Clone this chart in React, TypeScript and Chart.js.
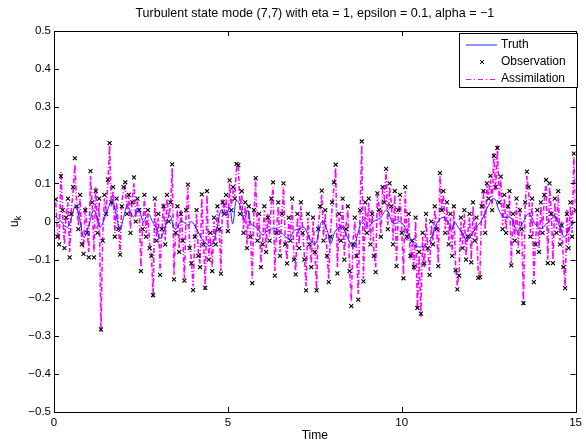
import React, { useEffect, useRef } from "react";
import { Chart, registerables } from "chart.js";

Chart.register(...registerables);

const FONT = "'Liberation Sans', Arial, Helvetica, sans-serif";
const TITLE = "Turbulent state mode (7,7) with eta = 1, epsilon = 0.1, alpha = \u22121";
const X_LABEL = "Time";
const SERIES_NAMES = ["Truth", "Observation", "Assimilation"];
const X_TICKS = [0, 5, 10, 15];
const Y_TICKS = [-0.5, -0.4, -0.3, -0.2, -0.1, 0, 0.1, 0.2, 0.3, 0.4, 0.5];

const truthTime = [
  0, 0.15, 0.38, 0.5, 0.62, 0.74, 0.86, 1.0, 1.14, 1.24, 1.33, 1.5, 1.67, 1.78, 1.9, 2.0, 2.1, 2.2, 2.29, 2.43,
  2.57, 2.71, 2.83, 2.95, 3.05, 3.18, 3.33, 3.48, 3.67, 3.86, 3.95, 4.1, 4.29, 4.52, 4.67, 4.81, 4.95, 5.05, 5.14, 5.24,
  5.33, 5.48, 5.57, 5.67, 5.86, 6.0, 6.14, 6.38, 6.57, 6.76, 6.9, 7.05, 7.19, 7.38, 7.52, 7.62, 7.71, 7.86, 7.95, 8.1,
  8.29, 8.48, 8.62, 8.76, 8.86, 9.0, 9.19, 9.38, 9.57, 9.76, 9.95, 10.14, 10.33, 10.52, 10.71, 10.86, 11.0, 11.19, 11.33, 11.43,
  11.52, 11.62, 11.76, 11.86, 12.0, 12.14, 12.28, 12.47, 12.66, 12.8, 12.94, 13.13, 13.32, 13.5, 13.65, 13.84, 13.98, 14.12, 14.31, 14.4,
  14.55, 14.69, 14.83, 15.0,
];
const truthValue = [
  0.016, 0.005, -0.015, 0.01, 0.042, 0.005, -0.041, -0.01, 0.03, 0.01, -0.015, 0.02, 0.055, 0.02, -0.02, 0.01, 0.04, 0.025, 0.012, 0.035,
  0.0, 0.02, 0.0, -0.02, -0.045, -0.02, 0.016, -0.02, 0.0, -0.01, 0.0, -0.02, -0.05, -0.063, -0.024, 0.03, 0.016, 0.038, -0.006, 0.055,
  0.046, 0.007, 0.03, -0.006, -0.019, -0.035, -0.024, -0.019, -0.032, -0.046, -0.024, -0.02, -0.015, -0.05, -0.059, -0.024, 0.0, -0.024, -0.059, -0.024,
  -0.015, -0.05, -0.067, -0.024, 0.0, -0.015, 0.0, 0.01, 0.03, -0.006, 0.0, -0.024, -0.059, -0.067, -0.059, -0.041, -0.006, 0.011, 0.0, -0.024,
  -0.002, -0.015, -0.032, -0.05, -0.036, -0.015, 0.0, 0.038, 0.06, 0.029, 0.011, 0.011, -0.024, 0.0, 0.02, -0.006, -0.019, -0.01, 0.007, 0.016,
  -0.015, -0.041, -0.015, 0.0,
];

// observation / assimilation sample times: every 0.05 from 0.05 to 15
const sampleTime = Array.from({ length: 300 }, (_, i) => Number(((i + 1) * 0.05).toFixed(2)));

const observation = [
  0.058, -0.04, -0.06, 0.119, 0.03, -0.07, 0.01, 0.06, -0.094, 0.02, 0.09, 0.166, 0.04, -0.02, 0.07, -0.06, -0.085, 0.03, -0.03, -0.094,
  0.132, 0.05, -0.094, 0.08, -0.03, 0.06, -0.283, -0.05, 0.07, 0.02, 0.11, 0.206, 0.05, 0.09, -0.04, 0.06, -0.02, -0.087, 0.04, 0.09,
  0.103, 0.02, 0.07, -0.03, 0.05, 0.116, 0.0, 0.06, 0.03, -0.13, -0.02, 0.07, -0.04, 0.03, -0.07, -0.09, -0.193, 0.06, -0.05, 0.02,
  -0.14, -0.02, 0.04, -0.06, 0.07, 0.0, 0.05, 0.15, -0.152, -0.03, 0.04, -0.08, 0.02, -0.05, -0.155, 0.03, 0.097, -0.07, -0.11, -0.18,
  -0.04, 0.03, -0.09, -0.12, 0.071, -0.06, -0.174, 0.08, -0.1, -0.03, -0.13, 0.01, -0.06, 0.04, -0.02, -0.137, 0.05, 0.02, 0.07, -0.025,
  0.108, 0.03, 0.09, 0.06, 0.151, 0.148, 0.02, 0.08, -0.03, 0.05, -0.07, 0.04, -0.04, -0.162, 0.03, 0.114, -0.05, 0.02, -0.12, -0.06,
  0.04, -0.08, 0.01, -0.05, 0.06, 0.103, -0.142, -0.03, 0.05, -0.09, 0.02, 0.1, -0.06, -0.11, 0.01, -0.05, 0.06, -0.1, -0.139, 0.02,
  -0.07, 0.05, -0.03, -0.1, -0.181, 0.02, -0.06, -0.12, 0.01, -0.08, -0.181, -0.02, 0.04, 0.081, -0.05, 0.03, -0.09, -0.159, -0.04, 0.05,
  0.103, 0.149, -0.136, 0.02, -0.05, 0.06, -0.1, -0.02, 0.04, -0.13, -0.222, -0.06, 0.01, -0.09, -0.205, 0.03, 0.21, -0.157, 0.05, -0.03,
  0.06, -0.06, 0.02, -0.09, -0.133, 0.074, 0.03, -0.04, 0.09, 0.05, 0.138, -0.02, 0.1, 0.04, -0.06, 0.08, -0.117, 0.03, 0.07, -0.03,
  -0.149, 0.09, -0.04, 0.02, -0.09, -0.05, -0.12, 0.01, -0.227, -0.08, -0.242, -0.03, -0.11, 0.02, -0.07, -0.14, 0.0, -0.06, 0.04, -0.02,
  -0.117, 0.127, 0.03, 0.08, -0.03, 0.05, -0.06, 0.02, -0.09, 0.04, -0.128, -0.178, -0.142, 0.01, -0.07, 0.03, -0.1, -0.04, 0.02, -0.107,
  0.05, -0.05, 0.01, -0.148, -0.146, 0.04, 0.08, -0.03, 0.1, 0.06, 0.12, 0.03, 0.172, 0.09, 0.193, 0.05, 0.118, -0.02, 0.07, -0.03,
  0.04, 0.08, -0.115, 0.02, -0.05, 0.06, -0.08, 0.03, -0.02, -0.214, 0.05, 0.131, 0.09, -0.04, 0.06, -0.159, -0.06, 0.03, -0.08, 0.05,
  -0.03, 0.07, 0.109, -0.109, 0.1, 0.02, -0.109, 0.06, -0.03, 0.08, -0.06, -0.01, -0.12, -0.175, 0.02, -0.07, 0.05, -0.04, 0.178, 0.03,
];

const assimilation = [
  0.05, -0.03, -0.05, 0.13, 0.02, -0.06, 0.02, 0.05, -0.08, 0.03, 0.08, 0.15, 0.05, -0.01, 0.06, -0.05, -0.07, 0.04, -0.02, -0.08,
  0.12, 0.04, -0.08, 0.09, -0.02, 0.05, -0.29, -0.04, 0.06, 0.03, 0.1, 0.2, 0.04, 0.08, -0.03, 0.05, -0.01, -0.08, 0.05, 0.08,
  0.09, 0.03, 0.06, -0.02, 0.06, 0.1, 0.01, 0.05, 0.04, -0.12, -0.01, 0.06, -0.03, 0.02, -0.06, -0.08, -0.2, 0.05, -0.04, 0.01,
  -0.13, -0.03, 0.05, -0.05, 0.06, 0.01, 0.04, 0.14, -0.14, -0.02, 0.03, -0.07, 0.03, -0.04, -0.15, 0.02, 0.09, -0.06, -0.1, -0.17,
  -0.05, 0.02, -0.08, -0.11, 0.06, -0.05, -0.18, 0.07, -0.09, -0.04, -0.12, 0.0, -0.05, 0.03, -0.01, -0.13, 0.06, 0.03, 0.06, -0.02,
  0.1, 0.04, 0.08, 0.07, 0.14, 0.15, 0.03, 0.07, -0.02, 0.04, -0.06, 0.03, -0.03, -0.15, 0.02, 0.11, -0.04, 0.01, -0.11, -0.05,
  0.03, -0.07, 0.02, -0.04, 0.05, 0.09, -0.13, -0.02, 0.04, -0.08, 0.01, 0.09, -0.05, -0.1, 0.0, -0.04, 0.05, -0.09, -0.13, 0.01,
  -0.06, 0.04, -0.02, -0.09, -0.17, 0.01, -0.05, -0.11, 0.0, -0.07, -0.18, -0.01, 0.03, 0.07, -0.04, 0.02, -0.08, -0.15, -0.03, 0.04,
  0.09, 0.14, -0.12, 0.01, -0.04, 0.05, -0.09, -0.01, 0.03, -0.12, -0.21, -0.05, 0.0, -0.08, -0.19, 0.02, 0.2, -0.15, 0.04, -0.02,
  0.05, -0.05, 0.03, -0.08, -0.12, 0.07, 0.04, -0.03, 0.08, 0.06, 0.13, -0.01, 0.09, 0.05, -0.05, 0.07, -0.11, 0.02, 0.06, -0.02,
  -0.14, 0.08, -0.05, 0.01, -0.1, -0.06, -0.13, 0.0, -0.23, -0.09, -0.25, -0.04, -0.12, 0.01, -0.08, -0.13, -0.01, -0.05, 0.03, -0.01,
  -0.11, 0.12, 0.04, 0.07, -0.02, 0.04, -0.05, 0.01, -0.08, 0.03, -0.12, -0.17, -0.13, 0.0, -0.06, 0.02, -0.09, -0.03, 0.01, -0.1,
  0.04, -0.04, 0.0, -0.14, -0.14, 0.05, 0.07, -0.02, 0.09, 0.07, 0.11, 0.04, 0.18, 0.08, 0.2, 0.06, 0.11, -0.01, 0.06, -0.02,
  0.03, 0.07, -0.11, 0.01, -0.04, 0.05, -0.07, 0.02, -0.01, -0.22, 0.04, 0.12, 0.08, -0.03, 0.05, -0.15, -0.05, 0.02, -0.07, 0.04,
  -0.02, 0.06, 0.1, -0.1, 0.09, 0.03, -0.1, 0.05, -0.02, 0.07, -0.05, 0.0, -0.11, -0.17, 0.03, -0.06, 0.04, -0.03, 0.17, 0.02,
];

const BLUE = "#1f1fff";
const LEGEND_BLUE = "#6f6fff";
const MAGENTA = "#ff00ff";

const decorPlugin = {
  id: "matlabDecor",
  afterDraw(chart: any) {
    const { ctx, chartArea, scales } = chart;
    const { left, right, top, bottom } = chartArea;
    ctx.save();
    ctx.strokeStyle = "#000";
    ctx.lineWidth = 1;
    ctx.setLineDash([]);
    // ticks inward
    ctx.beginPath();
    for (const v of X_TICKS) {
      const px = Math.round(scales.x.getPixelForValue(v)) + 0.5;
      ctx.moveTo(px, bottom);
      ctx.lineTo(px, bottom - 5);
      ctx.moveTo(px, top);
      ctx.lineTo(px, top + 5);
    }
    for (const v of Y_TICKS) {
      const py = Math.round(scales.y.getPixelForValue(v)) + 0.5;
      ctx.moveTo(left, py);
      ctx.lineTo(left + 5, py);
      ctx.moveTo(right, py);
      ctx.lineTo(right - 5, py);
    }
    ctx.stroke();
    // box
    ctx.strokeRect(Math.round(left) + 0.5, Math.round(top) + 0.5, Math.round(right - left), Math.round(bottom - top));

    // title
    ctx.fillStyle = "#000";
    ctx.font = `12.5px ${FONT}`;
    ctx.textAlign = "center";
    ctx.textBaseline = "middle";
    ctx.fillText(TITLE, (left + right) / 2, 14);
    // x label
    ctx.font = `12px ${FONT}`;
    ctx.fillText(X_LABEL, (left + right) / 2, 436);
    // y label u_k
    ctx.save();
    ctx.translate(18, 221);
    ctx.rotate(-Math.PI / 2);
    ctx.textAlign = "left";
    ctx.textBaseline = "alphabetic";
    ctx.font = `12px ${FONT}`;
    const uw = ctx.measureText("u").width;
    ctx.fillText("u", -6, 0);
    ctx.font = `9px ${FONT}`;
    ctx.fillText("k", -6 + uw, 3);
    ctx.restore();

    // legend
    const lx = 459, ly = 33, lw = 118, lh = 54;
    ctx.fillStyle = "#fff";
    ctx.fillRect(lx, ly, lw, lh);
    ctx.strokeStyle = "#000";
    ctx.strokeRect(lx + 0.5, ly + 0.5, lw, lh);
    ctx.font = `12px ${FONT}`;
    ctx.textAlign = "left";
    ctx.textBaseline = "middle";
    const rows = [ly + 12, ly + 29, ly + 46];
    // truth line
    ctx.strokeStyle = LEGEND_BLUE;
    ctx.lineWidth = 1.5;
    ctx.beginPath();
    ctx.moveTo(466, rows[0]);
    ctx.lineTo(497, rows[0]);
    ctx.stroke();
    // obs marker
    ctx.strokeStyle = "#000";
    ctx.lineWidth = 1;
    ctx.beginPath();
    const mx = 482, my = rows[1];
    ctx.moveTo(mx - 2, my - 2);
    ctx.lineTo(mx + 2, my + 2);
    ctx.moveTo(mx + 2, my - 2);
    ctx.lineTo(mx - 2, my + 2);
    ctx.stroke();
    // assim line
    ctx.strokeStyle = MAGENTA;
    ctx.lineWidth = 1;
    ctx.setLineDash([5, 3, 1, 3]);
    ctx.beginPath();
    ctx.moveTo(466, rows[2] + 0.5);
    ctx.lineTo(497, rows[2] + 0.5);
    ctx.stroke();
    ctx.setLineDash([]);
    ctx.fillStyle = "#000";
    SERIES_NAMES.forEach((n, i) => ctx.fillText(n, 501, rows[i]));
    ctx.restore();
  },
};

export default function App() {
  const ref = useRef<HTMLCanvasElement | null>(null);
  useEffect(() => {
    if (!ref.current) return;
    const chart = new Chart(ref.current, {
      type: "line",
      data: {
        datasets: [
          {
            label: SERIES_NAMES[0],
            data: truthTime.map((t, i) => ({ x: t, y: truthValue[i] })),
            borderColor: BLUE,
            borderWidth: 1,
            pointRadius: 0,
            tension: 0.4,
            fill: false,
          },
          {
            label: SERIES_NAMES[1],
            data: sampleTime.map((t, i) => ({ x: t, y: observation[i] })),
            showLine: false,
            pointStyle: "crossRot",
            pointRadius: 2.8,
            borderColor: "#000",
            backgroundColor: "#000",
            pointBorderWidth: 1.1,
          },
          {
            label: SERIES_NAMES[2],
            data: sampleTime.map((t, i) => ({ x: t, y: assimilation[i] })),
            borderColor: MAGENTA,
            borderWidth: 1.6,
            borderDash: [5, 2, 1, 2],
            pointRadius: 0,
            tension: 0,
            fill: false,
          },
        ],
      } as any,
      options: {
        responsive: false,
        animation: false,
        devicePixelRatio: 1,
        layout: { padding: { top: 31, right: 8, left: 0, bottom: 0 } },
        plugins: { legend: { display: false }, title: { display: false }, tooltip: { enabled: false } },
        events: [],
        scales: {
          x: {
            type: "linear",
            min: 0,
            max: 15,
            ticks: {
              stepSize: 5,
              color: "#000",
              font: { size: 11.5, family: FONT },
              padding: 4,
              maxRotation: 0,
              autoSkip: false,
            },
            grid: { display: false, drawTicks: false },
            border: { display: false },
            afterFit: (s: any) => {
              s.height = 34;
            },
          },
          y: {
            type: "linear",
            min: -0.5,
            max: 0.5,
            ticks: {
              stepSize: 0.1,
              color: "#000",
              font: { size: 11.5, family: FONT },
              padding: 3,
              autoSkip: false,
              callback: (v: any) => {
                const n = Math.round(Number(v) * 10) / 10;
                if (n === 0) return "0";
                return n.toFixed(1).replace("-", "\u2212");
              },
            },
            grid: { display: false, drawTicks: false },
            border: { display: false },
            afterFit: (s: any) => {
              s.width = 54;
            },
          },
        },
      } as any,
      plugins: [decorPlugin],
    });
    return () => chart.destroy();
  }, []);
  return (
    <div style={{ position: "absolute", left: 0, top: 0, width: 586, height: 446, background: "#fff" }}>
      <canvas ref={ref} width={586} height={446} style={{ width: 586, height: 446, display: "block" }} />
    </div>
  );
}
